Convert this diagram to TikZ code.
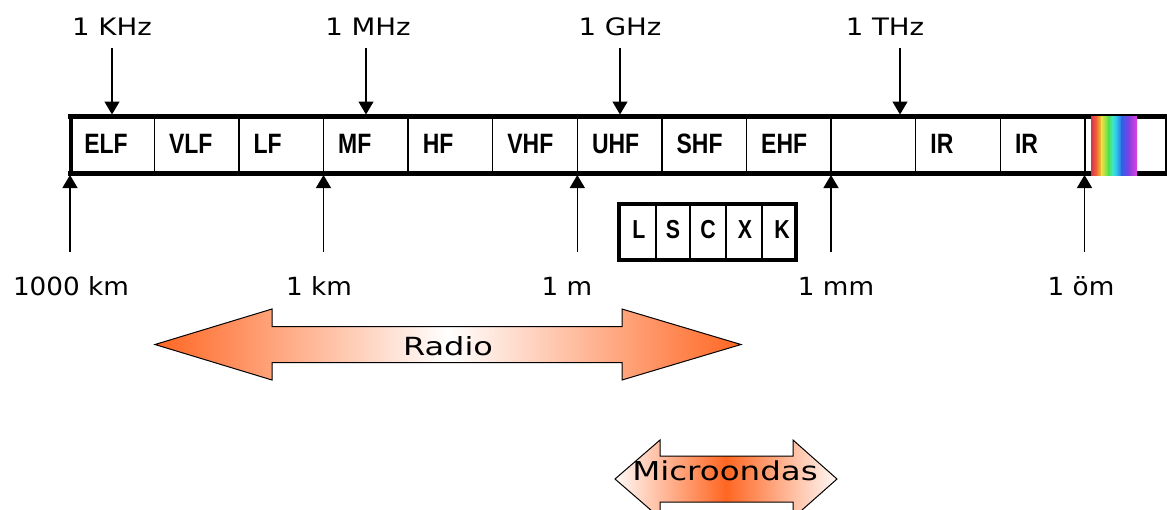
\documentclass[tikz,border=0pt]{standalone}
\usepackage{fontspec}
\setmainfont{DejaVu Sans}
\newfontfamily\bandfont[FakeStretch=0.82]{Liberation Sans}
\newfontfamily\topfont[FakeStretch=1.15]{DejaVu Sans}
\newfontfamily\botfont[FakeStretch=1.05]{DejaVu Sans}
\newfontfamily\radfont[FakeStretch=1.28]{DejaVu Sans}
\newfontfamily\micfont[FakeStretch=1.25]{DejaVu Sans}
\usetikzlibrary{arrows.meta}
\definecolor{orangeA}{RGB}{255,102,34}
\definecolor{rb1}{RGB}{216,48,90}
\definecolor{rb2}{RGB}{240,112,48}
\definecolor{rb3}{RGB}{232,224,64}
\definecolor{rb4}{RGB}{80,224,80}
\definecolor{rb5}{RGB}{64,232,200}
\definecolor{rb6}{RGB}{48,200,232}
\definecolor{rb7}{RGB}{48,96,232}
\definecolor{rb8}{RGB}{128,64,224}
\definecolor{rb9}{RGB}{224,64,224}
\tikzset{
  band/.style={anchor=base west, inner sep=0pt, font=\bandfont\bfseries\fontsize{28}{30}\selectfont},
  letter/.style={anchor=base, inner sep=0pt, font=\bandfont\bfseries\fontsize{26}{28}\selectfont},
  toplab/.style={anchor=base, inner sep=0pt, font=\topfont\fontsize{24}{28}\selectfont},
  botlab/.style={anchor=base, inner sep=0pt, font=\botfont\fontsize{25}{28}\selectfont},
  arr/.style={line width=1.4pt, -{Triangle[width=15pt,length=13pt]}},
  barline/.style={line width=5.5pt},
  divider/.style={line width=1.3pt},
  outline/.style={draw=black, line width=1pt, line join=miter},
}
\begin{document}
\begin{tikzpicture}[x=1pt,y=-1pt]
\useasboundingbox (0,0) rectangle (1167,509);
\clip (0,0) rectangle (1167,509);
\fill[white] (0,0) rectangle (1167,509);

% band dividers
\foreach \k in {1,...,12}
  \draw[divider] ({69.7+84.6*\k},116) -- ++(0,57);
\draw[divider] (1166,116) -- (1166,173);
% bar outline
\draw[barline] (68,116.7) -- (1167,116.7);
\draw[barline] (68,173.3) -- (1167,173.3);
\draw[line width=4pt] (71,114) -- (71,176);

% band labels
\node[band] (elf) at (84.2,153) {ELF};
\node[band] (vlf) at (168.8,153) {VLF};
\node[band] (lf)  at (253.4,153) {LF};
\node[band] (mf)  at (338.0,153) {MF};
\node[band] (hf)  at (422.6,153) {HF};
\node[band] (vhf) at (507.2,153) {VHF};
\node[band] (uhf) at (591.8,153) {UHF};
\node[band] (shf) at (676.4,153) {SHF};
\node[band] (ehf) at (761.0,153) {EHF};
\node[band] (ir1) at (930.2,153) {IR};
\node[band] (ir2) at (1014.8,153) {IR};

% visible spectrum
\shade[left color=rb1,right color=rb2] (1091,116) rectangle (1097.2,175);
\shade[left color=rb2,right color=rb3] (1096.7,116) rectangle (1102.2,175);
\shade[left color=rb3,right color=rb4] (1101.7,116) rectangle (1108.8,175);
\shade[left color=rb4,right color=rb5] (1108.3,116) rectangle (1112.5,175);
\shade[left color=rb5,right color=rb6] (1112,116) rectangle (1116.5,175);
\shade[left color=rb6,right color=rb7] (1116,116) rectangle (1122.2,175);
\shade[left color=rb7,right color=rb8] (1121.7,116) rectangle (1128.8,175);
\shade[left color=rb8,right color=rb9] (1128.3,116) rectangle (1137,175);

% top frequency labels and arrows
\node[toplab] (khz) at (112,35) {1 KHz};
\node[toplab] (mhz) at (368,35) {1 MHz};
\node[toplab] (ghz) at (620,35) {1 GHz};
\node[toplab] (thz) at (885,35) {1 THz};
\coordinate (khzS) at (112,48);  \coordinate (khzE) at (112,114.5);
\coordinate (mhzS) at (366,48);  \coordinate (mhzE) at (366,114.5);
\coordinate (ghzS) at (620,48);  \coordinate (ghzE) at (620,114.5);
\coordinate (thzS) at (900,48);  \coordinate (thzE) at (900,114.5);
\draw[arr] (khzS) -- (khzE);
\draw[arr] (mhzS) -- (mhzE);
\draw[arr] (ghzS) -- (ghzE);
\draw[arr] (thzS) -- (thzE);

% bottom wavelength labels and arrows
\coordinate (kmaS) at (70,252);    \coordinate (kmaE) at (70,175);
\coordinate (kmbS) at (323.5,252); \coordinate (kmbE) at (323.5,175);
\coordinate (mS)   at (577.3,252); \coordinate (mE)   at (577.3,175);
\coordinate (mmS)  at (831,252);   \coordinate (mmE)  at (831,175);
\coordinate (umS)  at (1084.5,252);\coordinate (umE)  at (1084.5,175);
\draw[arr] (kmaS) -- (kmaE);
\draw[arr] (kmbS) -- (kmbE);
\draw[arr] (mS) -- (mE);
\draw[arr] (mmS) -- (mmE);
\draw[arr] (umS) -- (umE);
\node[botlab] (km1000) at (71,295) {1000 km};
\node[botlab] (km1) at (319,295) {1 km};
\node[botlab] (m1) at (567,295) {1 m};
\node[botlab] (mm1) at (836,295) {1 mm};
\node[botlab] (um1) at (1081,295) {1 öm};

% microwave sub-bands
\foreach \x in {656,690,726,762}
  \draw[divider] (\x,204) -- (\x,260);
\draw[line width=4pt] (619,204) rectangle (796,260);
\node[letter] (bL) at (639,238) {L};
\node[letter] (bS) at (673,238) {S};
\node[letter] (bC) at (708,238) {C};
\node[letter] (bX) at (745,238) {X};
\node[letter] (bK) at (782,238) {K};

% Radio arrow
\path[left color=orangeA, right color=orangeA, middle color=white]
  (155,344.5) -- (272,309) -- (272,326.5) -- (622,326.5) -- (622,309) -- (741,344.5)
  -- (622,380) -- (622,362.5) -- (272,362.5) -- (272,380) -- cycle;
\draw[outline]
  (155,344.5) -- (272,309) -- (272,326.5) -- (622,326.5) -- (622,309) -- (741,344.5)
  -- (622,380) -- (622,362.5) -- (272,362.5) -- (272,380) -- cycle;
\node[anchor=base, inner sep=0pt, font=\radfont\fontsize{25}{30}\selectfont] (radio) at (448,355) {Radio};

% Microondas arrow
\path[left color=orangeA!4, right color=orangeA!4, middle color=orangeA]
  (615,479) -- (660,440) -- (660,456) -- (793,456) -- (793,440) -- (837,479)
  -- (793,518) -- (793,502) -- (660,502) -- (660,518) -- cycle;
\draw[outline]
  (615,479) -- (660,440) -- (660,456) -- (793,456) -- (793,440) -- (837,479)
  -- (793,518) -- (793,502) -- (660,502) -- (660,518) -- cycle;
\node[anchor=base, inner sep=0pt, font=\micfont\fontsize{26}{30}\selectfont] (micro) at (725,480) {Microondas};
\end{tikzpicture}
\end{document}
